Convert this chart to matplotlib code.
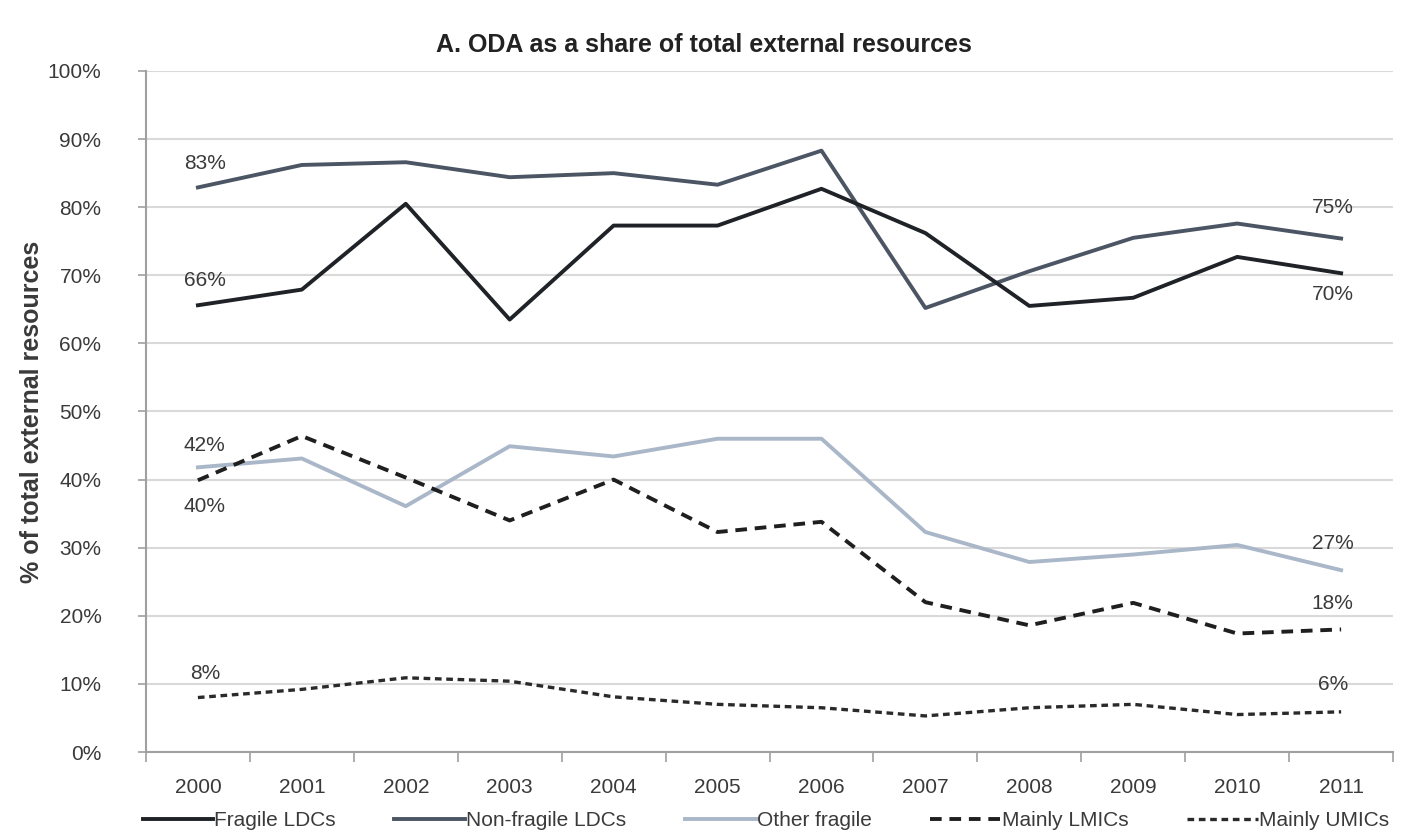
import matplotlib
matplotlib.use("Agg")
import matplotlib.pyplot as plt
from matplotlib.ticker import FixedLocator, PercentFormatter

plt.rcParams['font.family'] = ['Liberation Sans Narrow', 'Liberation Sans', 'DejaVu Sans']

years = ['2000', '2001', '2002', '2003', '2004', '2005',
         '2006', '2007', '2008', '2009', '2010', '2011']

fragile_ldcs = [65.6, 67.9, 80.5, 63.5, 77.3, 77.3, 82.7, 76.2, 65.5, 66.7, 72.7, 70.3]
non_fragile_ldcs = [82.9, 86.2, 86.6, 84.4, 85.0, 83.3, 88.3, 65.2, 70.6, 75.5, 77.6, 75.4]
other_fragile = [41.8, 43.1, 36.1, 44.9, 43.4, 46.0, 46.0, 32.3, 27.9, 29.0, 30.4, 26.7]
mainly_lmics = [39.9, 46.4, 40.3, 34.0, 40.0, 32.3, 33.8, 22.0, 18.6, 21.9, 17.4, 18.0]
mainly_umics = [8.0, 9.2, 10.9, 10.4, 8.1, 7.0, 6.5, 5.3, 6.5, 7.0, 5.5, 5.9]

series_names = ['Fragile LDCs', 'Non-fragile LDCs', 'Other fragile',
                'Mainly LMICs', 'Mainly UMICs']

# value labels at the first and last year: (series, text, vertical offset in points)
start_labels = [(non_fragile_ldcs, '83%', 17), (fragile_ldcs, '66%', 18),
                (other_fragile, '42%', 16), (mainly_lmics, '40%', -19),
                (mainly_umics, '8%', 17)]
end_labels = [(non_fragile_ldcs, '75%', 22), (fragile_ldcs, '70%', -15),
              (other_fragile, '27%', 19), (mainly_lmics, '18%', 19),
              (mainly_umics, '6%', 20)]

text_color = '#3a3a3a'

fig = plt.figure(figsize=(14.1, 8.38), dpi=100)
ax = fig.add_axes([0.1035, 0.1026, 0.8845, 0.8127])

x = list(range(len(years)))
ax.plot(x, fragile_ldcs, color='#1f2226', lw=2.8, solid_joinstyle='round',
        label=series_names[0], zorder=4)
ax.plot(x, non_fragile_ldcs, color='#4b5563', lw=2.8, solid_joinstyle='round',
        label=series_names[1], zorder=3)
ax.plot(x, other_fragile, color='#a9b7c9', lw=2.8, solid_joinstyle='round',
        label=series_names[2], zorder=3)
ax.plot(x, mainly_lmics, color='#1f1f1f', lw=2.8, dashes=(3.0, 2.0),
        label=series_names[3], zorder=4)
ax.plot(x, mainly_umics, color='#2a2a2a', lw=2.4, dashes=(2.0, 1.4),
        label=series_names[4], zorder=4)

for vals, txt, dy in start_labels:
    ax.annotate(txt, (x[0], vals[0]), xytext=(5, dy), textcoords='offset points',
                ha='center', va='center', fontsize=15, color=text_color)
for vals, txt, dy in end_labels:
    ax.annotate(txt, (x[-1], vals[-1]), xytext=(-6, dy), textcoords='offset points',
                ha='center', va='center', fontsize=15, color=text_color)

ax.set_xlim(-0.5, len(years) - 0.5)
ax.set_ylim(0, 100)
ax.set_xticks(x)
ax.set_xticklabels(years, fontsize=15, color=text_color)
ax.xaxis.set_minor_locator(FixedLocator([i + 0.5 for i in range(-1, len(years))]))
ax.tick_params(axis='x', which='major', length=0, pad=19)
ax.tick_params(axis='x', which='minor', length=7, color='#a0a0a0', width=1.2)
ax.set_yticks(range(0, 101, 10))
ax.yaxis.set_major_formatter(PercentFormatter(decimals=0))
ax.tick_params(axis='y', length=6, color='#a0a0a0', width=1.2,
               labelsize=15, labelcolor=text_color, pad=26)

ax.grid(axis='y', color='#d9d9d9', lw=1.5)
ax.set_axisbelow(True)
for side in ('top', 'right'):
    ax.spines[side].set_visible(False)
for side in ('left', 'bottom'):
    ax.spines[side].set_color('#a0a0a0')
    ax.spines[side].set_linewidth(1.5)

ax.set_ylabel('% of total external resources', fontsize=18, fontweight='bold',
              color=text_color)
ax.yaxis.set_label_coords(-0.082, 0.5)
fig.text(0.499, 0.946, 'A. ODA as a share of total external resources',
         ha='center', va='center', fontsize=18, fontweight='bold', color='#222222')

leg = fig.legend(loc='center', bbox_to_anchor=(0.543, 0.021), ncol=5,
                 frameon=False, fontsize=15, handlelength=3.4, handletextpad=0.05,
                 columnspacing=2.8, labelcolor=text_color)

fig.savefig('out.png', dpi=100, facecolor='white')
